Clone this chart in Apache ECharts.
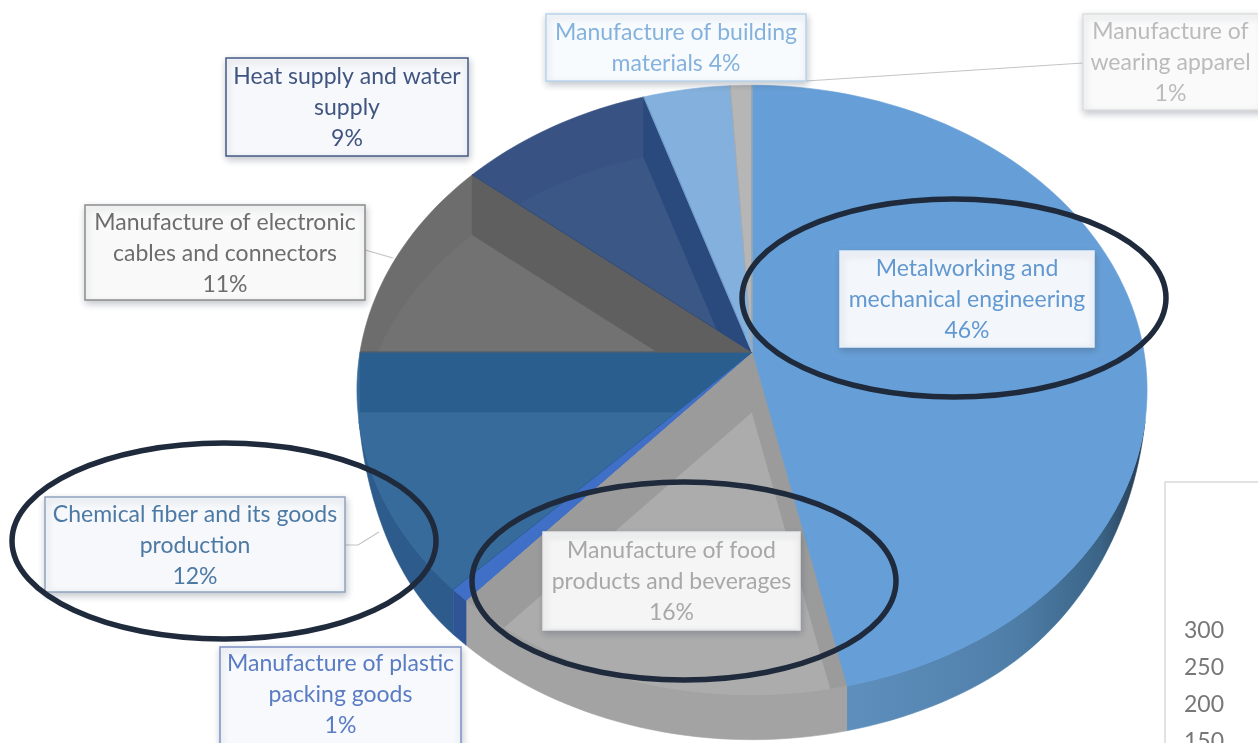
<!DOCTYPE html>
<html>
<head>
<meta charset="utf-8">
<style>html,body{margin:0;padding:0;background:#fff;overflow:hidden}#c{width:1258px;height:743px;filter:blur(0.7px)}</style>
<script src="https://cdn.jsdelivr.net/npm/echarts@6/dist/echarts.min.js"></script>
</head>
<body>
<div id="c"></div>
<script>
var categories = ['Metalworking and\nmechanical engineering', 'Manufacture of food\nproducts and beverages', 'Manufacture of plastic\npacking goods', 'Chemical fiber and its goods\nproduction', 'Manufacture of electronic\ncables and connectors', 'Heat supply and water\nsupply', 'Manufacture of building\nmaterials', 'Manufacture of\nwearing apparel'];
// percentages printed on the callouts
var shares = [46, 16, 1, 12, 11, 9, 4, 1];
var sliceSizes = [46.6, 14.9, 0.7, 12.8, 11, 9, 4, 1];
var tickLabels = [150, 200, 250, 300];

var rimColors   = ['#669fd8', '#a6a6a6', '#3f6fc6', '#376b9c', '#6d6d6d', '#375283', '#83b0dd', '#b6b6b6'];
var floorColors = ['#669fd8', '#acacac', '#3f6fc6', '#376b9c', '#727272', '#3a5786', '#83b0dd', '#b6b6b6'];
var wallColors  = ['#669fd8', '#9b9b9b', '#3f6fc6', '#2a5e8f', '#5f5f60', '#2a4a7d', '#83b0dd', '#a9a9a9'];
var sideColors  = ['#4f7fab', '#a3a3a3', '#2f5597', '#2c5b8c', '#555555', '#2a4a7d', '#6d97bf', '#999999'];

// box: left, top, right, bottom; border, fill, text colour
var boxes = [
  [840, 251, 1094, 347, '#e6eef8', '#f3f7fc', '#6298cf'],
  [543, 532, 800, 630, '#e6e6e6', '#f5f5f5', '#a8a8a8'],
  [220, 647, 461, 760, '#7d90c4', '#f7f9fd', '#5a7cc2'],
  [45, 497, 345, 592, '#90a4bc', '#f6f8fb', '#4d7aa5'],
  [85, 205, 365, 300, '#8c8c8c', '#f9f9f9', '#6d6d6d'],
  [226, 58, 468, 156, '#445a85', '#f7f8fb', '#3f5580'],
  [546, 14, 806, 81, '#b9d3ec', '#f8fbfe', '#85b2dd'],
  [1083, 14, 1262, 110, '#dedede', '#fafafa', '#bbbbbb']
];
var leaders = [
  [[806, 81], [1083, 63]],
  [[365, 250], [393, 258]],
  [[345, 545], [358, 545], [379, 532]]
];
var rings = [[954, 298, 212, 99], [224, 541, 212, 98], [684, 581, 212, 99]];

var CX = 752, CY = 352, A = 392, B = 300, K = 0.1246, FLOOR = 60, SIDE = 45;

function pt(deg, dy) {
  var t = deg * Math.PI / 180, w = 1 + K * Math.cos(t);
  return [CX + A * Math.sin(t) / w, CY - B * Math.cos(t) / w + (dy || 0)];
}
function sideDrop(deg) {
  var u = deg < 180 ? (deg - 103) / 47 : (257 - deg) / 32;
  u = Math.max(0, Math.min(1, u));
  return SIDE * Math.sin(u * Math.PI / 2);
}
function arc(a0, a1, dy) {
  var out = [], n = Math.max(2, Math.ceil(Math.abs(a1 - a0) / 1.5));
  for (var i = 0; i <= n; i++) {
    var a = a0 + (a1 - a0) * i / n;
    out.push(pt(a, dy === 'side' ? sideDrop(a) : dy));
  }
  return out;
}
function clipConvex(subject, win) {
  var area = 0, i;
  for (i = 0; i < win.length; i++) {
    var p = win[i], q = win[(i + 1) % win.length];
    area += p[0] * q[1] - q[0] * p[1];
  }
  var sgn = area > 0 ? 1 : -1, out = subject;
  for (i = 0; i < win.length && out.length; i++) {
    var a = win[i], b = win[(i + 1) % win.length];
    var ex = b[0] - a[0], ey = b[1] - a[1];
    if (Math.abs(ex) + Math.abs(ey) < 1e-6) continue;
    var side = function (p) { return sgn * (ex * (p[1] - a[1]) - ey * (p[0] - a[0])); };
    var input = out; out = [];
    for (var j = 0; j < input.length; j++) {
      var s = input[j], e = input[(j + 1) % input.length], ss = side(s), se = side(e);
      if (ss >= 0) out.push(s);
      if ((ss >= 0) !== (se >= 0)) {
        var t = ss / (ss - se);
        out.push([s[0] + (e[0] - s[0]) * t, s[1] + (e[1] - s[1]) * t]);
      }
    }
  }
  return out;
}
function poly(points, fill, z) {
  return { type: 'polygon', shape: { points: points }, style: { fill: fill, stroke: fill, lineWidth: 0.6 }, z2: z };
}

var total = sliceSizes.reduce(function (s, v) { return s + v; }, 0);

function renderSlice(params, api) {
  var idx = api.value(0), before = 0;
  for (var i = 0; i < idx; i++) before += sliceSizes[i];
  var a0 = before / total * 360, a1 = (before + api.value(1)) / total * 360;
  var children = [];
  // outer side wall, front half only
  var s0 = Math.max(a0, 103), s1 = Math.min(a1, 257);
  if (s1 > s0) {
    var fill = sideColors[idx];
    if (idx === 0) {
      fill = new echarts.graphic.LinearGradient(0, 0, 1, 0, [
        { offset: 0, color: '#5f8fbd' }, { offset: 0.55, color: '#4f7fa9' },
        { offset: 0.85, color: '#3b6487' }, { offset: 1, color: '#26384c' }
      ]);
    }
    children.push(poly(arc(s0, s1, 0).concat(arc(s1, s0, 'side')), fill, 1));
  }
  var apex = [CX, CY], slice = [apex].concat(arc(a0, a1, 0));
  children.push(poly(slice, rimColors[idx], 2));
  var shifted = [[CX, CY + FLOOR]].concat(arc(a0, a1, FLOOR));
  var floor = clipConvex(shifted, slice);
  if (floor.length > 2) children.push(poly(floor, floorColors[idx], 3));
  [a0, a1].forEach(function (edge) {
    var r = pt(edge, 0), quad = [apex, r, [r[0], r[1] + FLOOR], [CX, CY + FLOOR]];
    var wall = clipConvex(quad, slice);
    if (wall.length > 2) children.push(poly(wall, wallColors[idx], 4));
  });
  return { type: 'group', children: children };
}

var graphics = [];
graphics.push({ type: 'polyline', silent: true, z: 10, shape: { points: [[1165, 743], [1165, 482], [1258, 482]] }, style: { stroke: '#d9d9d9', fill: 'none', lineWidth: 1.5 } });
leaders.forEach(function (l) {
  graphics.push({ type: 'polyline', silent: true, z: 11, shape: { points: l }, style: { stroke: '#c4c4c4', fill: 'none', lineWidth: 1.2 } });
});
boxes.forEach(function (b, i) {
  var sep = i === 6 ? ' ' : '\n';
  graphics.push({ type: 'rect', silent: true, z: 12, shape: { x: b[0], y: b[1], width: b[2] - b[0], height: b[3] - b[1] },
    style: { fill: b[5], stroke: b[4], lineWidth: 1.5, shadowBlur: 7, shadowOffsetX: 1, shadowOffsetY: 3, shadowColor: 'rgba(60,70,90,0.3)' } });
  graphics.push({ type: 'text', silent: true, z: 13, x: (b[0] + b[2]) / 2 + (i === 7 ? -2 : 0), y: i === 2 ? 695 : (b[1] + b[3]) / 2 + 1,
    style: { text: categories[i] + sep + shares[i] + '%', fill: b[6], font: '23px Lato, "Open Sans", sans-serif', lineHeight: 31, align: 'center', verticalAlign: 'middle' } });
});
rings.forEach(function (r) {
  graphics.push({ type: 'ellipse', silent: true, z: 20, shape: { cx: r[0], cy: r[1], rx: r[2], ry: r[3] }, style: { fill: 'none', stroke: '#1f2b3c', lineWidth: 5.5 } });
});

var chart = echarts.init(document.getElementById('c'), null, { renderer: 'canvas' });
chart.setOption({
  animation: false,
  backgroundColor: '#ffffff',
  grid: { left: 1226, top: 631, width: 20, height: 111, outerBoundsMode: 'none', containLabel: false },
  xAxis: { show: false, type: 'value', min: 0, max: 1 },
  yAxis: {
    type: 'value', min: 150, max: 300, interval: 50,
    axisLine: { show: false }, axisTick: { show: false }, splitLine: { show: false },
    axisLabel: { color: '#777777', fontSize: 23, fontFamily: 'Lato, sans-serif', margin: 2, showMaxLabel: true, showMinLabel: true,
      formatter: function (v) { return tickLabels.indexOf(v) >= 0 ? String(v) : ''; } }
  },
  series: [{
    type: 'custom', coordinateSystem: 'none', silent: true, clip: false,
    renderItem: renderSlice,
    data: sliceSizes.map(function (v, i) { return [i, v]; })
  }],
  graphic: graphics
});
</script>
</body>
</html>
